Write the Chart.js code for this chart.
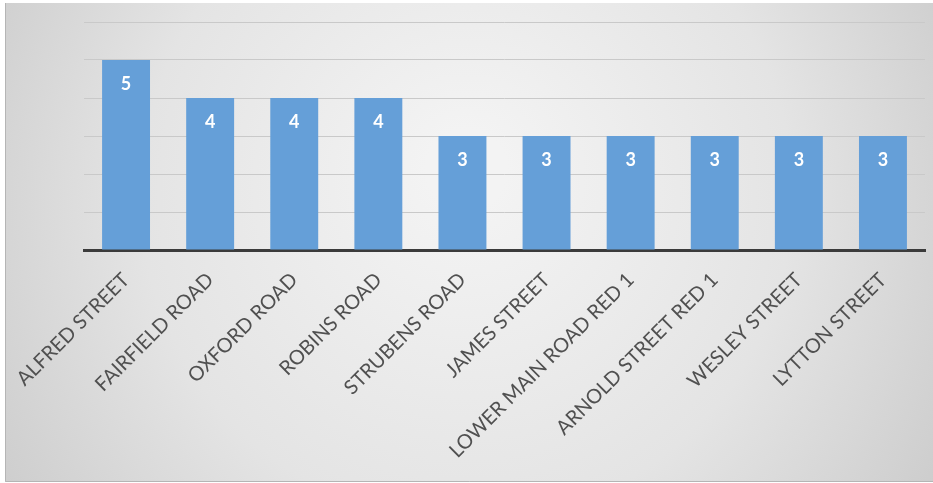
<!DOCTYPE html>
<html>
<head>
<meta charset="utf-8">
<script src="https://cdn.jsdelivr.net/npm/chart.js@4.4.0/dist/chart.umd.min.js"></script>
<style>
	html, body { margin: 0; padding: 0; background: #ffffff; }
	#wrap { width: 933px; height: 483px; position: relative; }
</style>
</head>
<body>
<div id="wrap"><canvas id="myChart"></canvas></div>
<script>
const streets = [
	"ALFRED STREET",
	"FAIRFIELD ROAD",
	"OXFORD ROAD",
	"ROBINS ROAD",
	"STRUBENS ROAD",
	"JAMES STREET",
	"LOWER MAIN ROAD RED 1",
	"ARNOLD STREET RED 1",
	"WESLEY STREET",
	"LYTTON STREET",
];
const counts = [5, 4, 4, 4, 3, 3, 3, 3, 3, 3];
const yMax = 6;

// grey gradient behind the whole chart
const backdrop = {
	id: "backdrop",
	beforeDraw(chart) {
		const c = chart.ctx;
		const w = chart.width;
		const h = chart.height;
		c.save();
		c.fillStyle = "#ffffff";
		c.fillRect(0, 0, w, h);
		const g = c.createRadialGradient(w * 0.5, h * 0.35, 40, w * 0.5, h * 0.45, w * 0.6);
		g.addColorStop(0, "#f3f3f3");
		g.addColorStop(0.55, "#e4e4e4");
		g.addColorStop(1, "#cbcbcb");
		c.fillStyle = g;
		c.fillRect(5, 3, w - 5, h - 4);
		c.strokeStyle = "#b5b5b5";
		c.lineWidth = 1;
		c.beginPath();
		c.moveTo(5.5, 3);
		c.lineTo(5.5, h - 1.5);
		c.lineTo(w, h - 1.5);
		c.stroke();
		c.restore();
	},
};

// white numbers inside the bars
const barValues = {
	id: "barValues",
	afterDatasetsDraw(chart) {
		const c = chart.ctx;
		const meta = chart.getDatasetMeta(0);
		c.save();
		c.fillStyle = "#ffffff";
		c.font = "bold 18px Lato, 'Open Sans', sans-serif";
		c.textAlign = "center";
		c.textBaseline = "middle";
		meta.data.forEach(function (bar, i) {
			c.fillText(counts[i], bar.x, bar.y + 24);
		});
		c.restore();
	},
};

const ctx = document.getElementById("myChart").getContext("2d");
const myChart = new Chart(ctx, {
	type: "bar",
	data: {
		labels: streets,
		datasets: [
			{
				label: "Count",
				data: counts,
				backgroundColor: "#659fd8",
				borderWidth: 0,
				categoryPercentage: 1,
				barPercentage: 0.57,
			},
		],
	},
	options: {
		responsive: true,
		maintainAspectRatio: false,
		animation: false,
		layout: {
			padding: { top: 22, right: 8, left: 0, bottom: 0 },
		},
		plugins: {
			legend: { display: false },
			tooltip: { enabled: false },
		},
		scales: {
			x: {
				grid: { display: false },
				border: { color: "#3b3b3b", width: 3 },
				ticks: {
					color: "#505050",
					font: { family: "Lato", size: 20 },
					minRotation: 45,
					maxRotation: 45,
					padding: 10,
				},
				afterFit(scale) {
					scale.height = 233;
				},
			},
			y: {
				min: 0,
				max: yMax,
				ticks: { display: false, stepSize: 1 },
				border: { display: false },
				grid: { color: "#c9c9c9", lineWidth: 1, drawTicks: false },
				afterFit(scale) {
					scale.width = 84;
				},
			},
		},
	},
	plugins: [backdrop, barValues],
});
</script>
</body>
</html>
